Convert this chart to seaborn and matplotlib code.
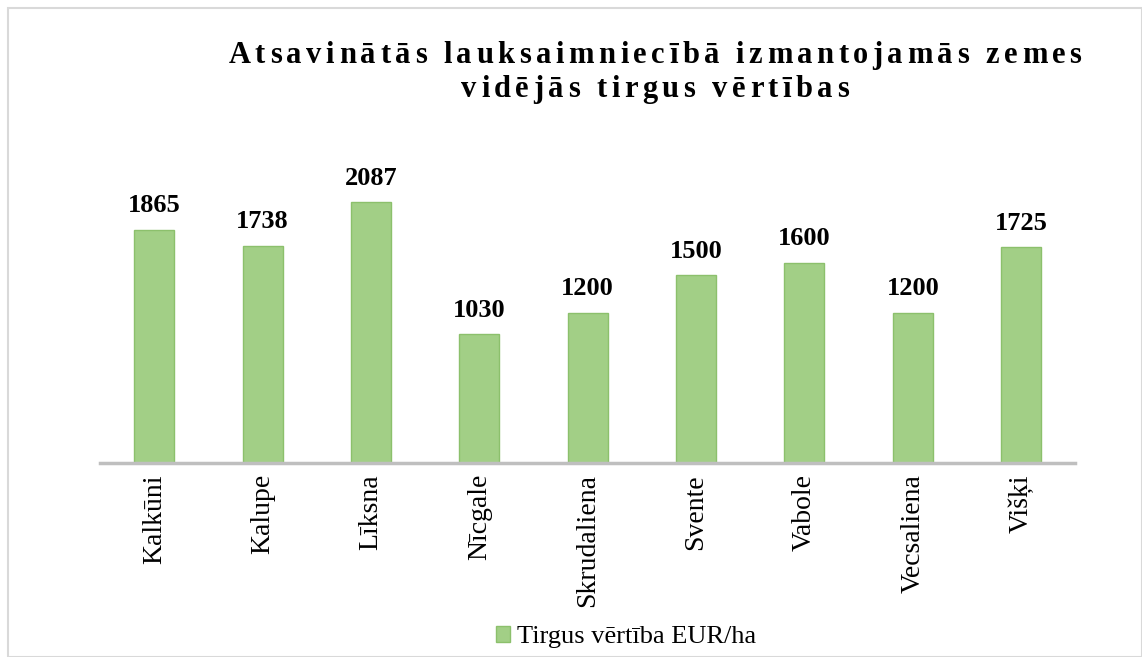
import pandas as pd
import matplotlib
matplotlib.use("Agg")
import matplotlib.pyplot as plt
import seaborn as sns
from matplotlib.patches import Rectangle
from matplotlib.font_manager import FontProperties

places = ["Kalkūni", "Kalupe", "Līksna", "Nīcgale", "Skrudaliena",
          "Svente", "Vabole", "Vecsaliena", "Višķi"]
values = [1865, 1738, 2087, 1030, 1200, 1500, 1600, 1200, 1725]
series_name = "Tirgus vērtība EUR/ha"
title_lines = ["Atsavinātās lauksaimniecībā izmantojamās zemes",
               "vidējās tirgus vērtības"]

df = pd.DataFrame({"place": places, "value": values})

sns.set_style("white")
plt.rcParams["font.family"] = ["Liberation Serif", "DejaVu Serif"]
plt.rcParams["text.color"] = "black"
plt.rcParams["xtick.color"] = "black"

fig = plt.figure(figsize=(11.42, 6.57), dpi=100)
ax = fig.add_axes([0.0876, 0.2953, 0.854, 0.4757])

sns.barplot(data=df, x="place", y="value", color="#a2cf86", width=0.37,
            edgecolor="#8cc06c", linewidth=1, saturation=1,
            label=series_name, ax=ax)

ax.set_ylim(0, 2500)
ax.set_xlim(-0.5, len(places) - 0.5)
ax.bar_label(ax.containers[0], fmt="%d", padding=9,
             fontsize=19, fontweight="bold")

for s in ["top", "right", "left"]:
    ax.spines[s].set_visible(False)
ax.spines["bottom"].set_color("#bfbfbf")
ax.spines["bottom"].set_linewidth(2.5)
ax.set_yticks([])
ax.set_xlabel("")
ax.set_ylabel("")
ax.tick_params(axis="x", length=0, pad=8)
plt.setp(ax.get_xticklabels(), rotation=90, fontsize=20)

# title with wide letter spacing, drawn char by char
renderer = fig.canvas.get_renderer()
tprop = FontProperties(family="Liberation Serif", weight="bold", size=22)
target_w = 853
W, H = fig.get_size_inches() * fig.dpi
line_widths = []
for line, base_y in zip(title_lines, [63, 97]):
    widths = [renderer.get_text_width_height_descent(ch, tprop, ismath=False)[0]
              for ch in line]
    line_widths.append(widths)
# spacing chosen so the first line spans the same width as the original
spacing = (target_w - sum(line_widths[0])) / (len(title_lines[0]) - 1)
for line, widths, base_y in zip(title_lines, line_widths, [63, 97]):
    total = sum(widths) + spacing * (len(line) - 1)
    x = 655 - total / 2
    for ch, w in zip(line, widths):
        if ch != " ":
            fig.text(x / W, 1 - base_y / H, ch, fontproperties=tprop,
                     ha="left", va="baseline")
        x += w + spacing

ax.legend(loc="center", bbox_to_anchor=(0.548, 0.03),
          bbox_transform=fig.transFigure, frameon=False, fontsize=19,
          handlelength=0.55, handleheight=0.55, handletextpad=0.25)

fig.patches.append(Rectangle((0.007, 0.0), 0.993, 0.988, transform=fig.transFigure,
                             fill=False, edgecolor="#d9d9d9", linewidth=1.5))

fig.savefig("out.png", dpi=100)
